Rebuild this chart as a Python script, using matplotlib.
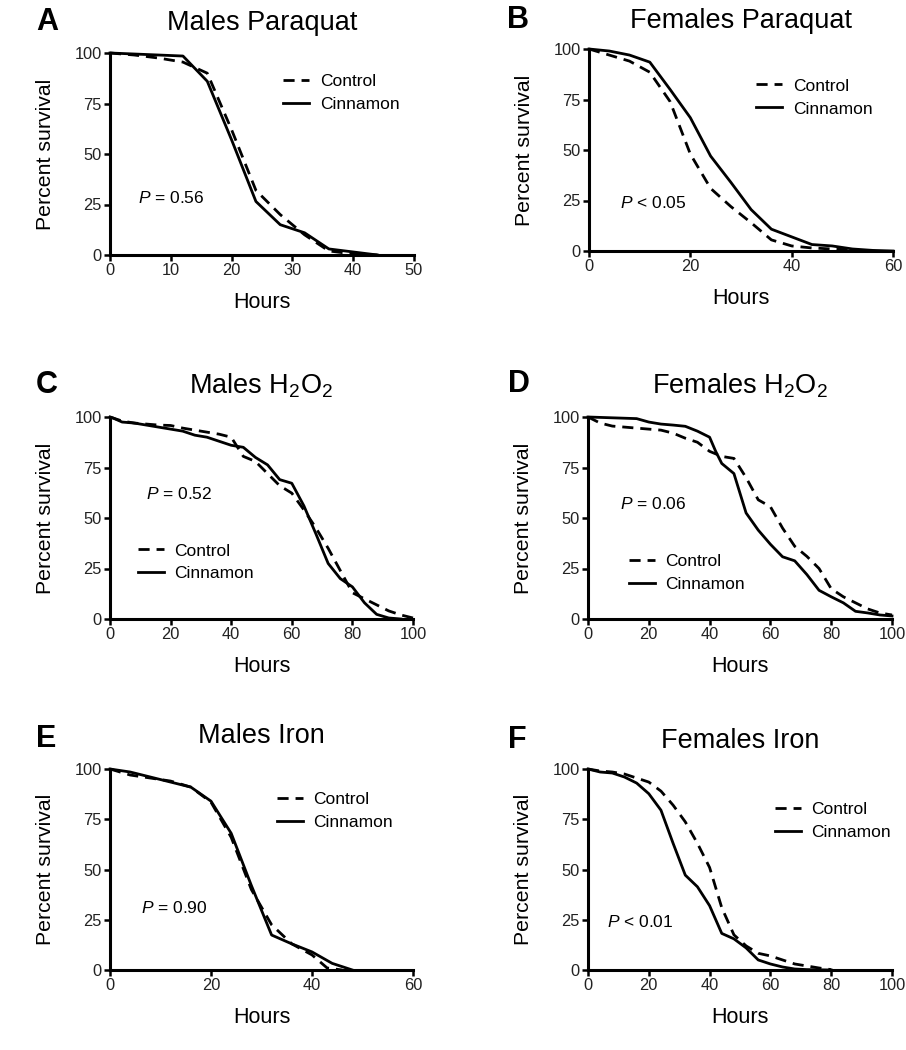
import matplotlib
matplotlib.use("Agg")
import matplotlib.pyplot as plt

plt.rcParams['font.family'] = ['Liberation Sans', 'DejaVu Sans']
plt.rcParams['mathtext.fontset'] = 'custom'
plt.rcParams['mathtext.rm'] = 'Liberation Sans'
plt.rcParams['mathtext.it'] = 'Liberation Sans:italic'

#%% data (hours, percent survival)
a_ctrl_t = [0, 4, 8, 12, 16, 20, 24, 28, 32, 36, 40, 44]
a_ctrl_y = [100, 99, 97.5, 95.5, 90, 62, 32, 20, 10, 2, 0.5, 0]
a_cinn_t = [0, 12, 16, 20, 24, 28, 32, 36, 44]
a_cinn_y = [100, 98.5, 86, 57, 26.5, 15, 11, 3, 0]

b_ctrl_t = [0, 4, 8, 12, 16, 20, 24, 28, 32, 36, 40, 44, 48, 52, 56]
b_ctrl_y = [100, 97, 94, 88.5, 74, 48, 31, 22, 14, 5.5, 2.5, 1.5, 1, 0.5, 0]
b_cinn_t = [0, 4, 8, 12, 16, 20, 24, 28, 32, 36, 40, 44, 48, 52, 56, 60]
b_cinn_y = [100, 99, 97, 93.5, 80, 66, 47, 34, 20.5, 10.8, 7, 3.2, 2.5, 1, 0.3, 0]

c_ctrl_t = [0, 4, 8, 12, 16, 20, 24, 28, 32, 36, 40, 44, 48, 52, 56, 60, 64, 68, 72, 76, 80, 84, 88, 92, 96, 100]
c_ctrl_y = [100, 98, 97, 96.5, 96, 95.8, 94.5, 93.5, 92.5, 91.5, 90, 80.5, 78, 72, 66, 62.3, 54, 45, 35, 24, 13, 10, 7, 4, 2, 0.5]
c_cinn_t = [0, 1, 4, 8, 12, 16, 20, 24, 28, 32, 36, 40, 44, 48, 52, 56, 60, 64, 68, 72, 76, 80, 84, 88, 92, 96]
c_cinn_y = [100, 99.5, 97.5, 97, 96, 95, 94, 93, 91, 90, 88, 86, 85, 80, 76.3, 69, 67.2, 56, 42, 27.5, 20, 15.9, 8, 2.3, 0.5, 0]

d_ctrl_t = [0, 4, 8, 16, 24, 28, 32, 36, 40, 44, 48, 52, 56, 60, 64, 68, 72, 76, 80, 84, 88, 92, 96, 100]
d_ctrl_y = [100, 97, 95.5, 94.5, 93.5, 92, 89.5, 87.5, 83, 80.5, 79.5, 70, 59, 55.6, 45, 36, 31, 25, 15, 11, 8, 5, 3, 2]
d_cinn_t = [0, 16, 20, 24, 28, 32, 36, 40, 42, 44, 48, 52, 56, 60, 64, 68, 72, 76, 80, 84, 88, 92, 96, 100]
d_cinn_y = [100, 99.2, 97.5, 96.5, 96, 95.4, 93, 90, 83, 77, 72, 52.5, 44, 37, 30.8, 28.8, 22, 14.2, 11, 8, 3.8, 3, 2, 1.5]

e_ctrl_t = [0, 4, 8, 12, 16, 20, 24, 28, 32, 36, 40, 43, 46]
e_ctrl_y = [100, 97, 95.5, 94, 91, 83.5, 66, 40, 22.5, 13, 7.5, 1, 0]
e_cinn_t = [0, 4, 8, 12, 16, 20, 24, 28, 32, 36, 40, 44, 48]
e_cinn_y = [100, 98.5, 96, 93.5, 91, 84, 68, 42, 17.4, 13, 9, 3.3, 0]

f_ctrl_t = [0, 4, 8, 12, 16, 20, 24, 28, 32, 36, 40, 44, 48, 52, 56, 60, 64, 68, 72, 76, 80]
f_ctrl_y = [100, 99, 98.5, 97.5, 95.5, 93.5, 89, 82, 73.7, 63, 51, 31, 17.5, 12, 8.3, 7, 5, 3, 2, 1, 0.2]
f_cinn_t = [0, 4, 8, 12, 16, 20, 24, 28, 32, 36, 40, 44, 48, 52, 56, 60, 64, 68, 72, 80]
f_cinn_y = [100, 98.5, 98, 96, 93, 87.7, 79.5, 63, 47.2, 41.4, 32, 18.2, 15.5, 11, 5, 3, 1.5, 0.5, 0.2, 0]

letters = ['A', 'B', 'C', 'D', 'E', 'F']
titles = ['Males Paraquat', 'Females Paraquat', r'Males H$_2$O$_2$',
          r'Females H$_2$O$_2$', 'Males Iron', 'Females Iron']
p_texts = ['= 0.56', '< 0.05', '= 0.52', '= 0.06', '= 0.90', '< 0.01']
x_max = [50, 60, 100, 100, 60, 100]
x_step = [10, 20, 20, 20, 20, 20]

ctrl = [(a_ctrl_t, a_ctrl_y), (b_ctrl_t, b_ctrl_y), (c_ctrl_t, c_ctrl_y),
        (d_ctrl_t, d_ctrl_y), (e_ctrl_t, e_ctrl_y), (f_ctrl_t, f_ctrl_y)]
cinn = [(a_cinn_t, a_cinn_y), (b_cinn_t, b_cinn_y), (c_cinn_t, c_cinn_y),
        (d_cinn_t, d_cinn_y), (e_cinn_t, e_cinn_y), (f_cinn_t, f_cinn_y)]

#%% layout in pixels: (left, right, top, bottom) of each axes
W, H = 906, 1050
boxes = [(110, 414, 53, 255), (589, 893, 49, 251),
         (110, 413, 417, 619), (588, 892, 417, 619),
         (110, 413, 769, 970), (588, 892, 769, 970)]
letter_pos = [(36, 30), (507, 28), (36, 393), (508, 392), (36, 747), (508, 748)]
title_pad = [16.5, 15, 17, 17, 18.5, 15]
legend_pos = [(0.57, 0.80), (0.55, 0.76), (0.092, 0.28), (0.135, 0.23), (0.55, 0.79), (0.615, 0.74)]
p_pos = [(4.6, 28), (6.1, 24), (11.9, 62), (10.5, 57), (6.1, 31), (6.2, 24)]

fig = plt.figure(figsize=(W / 100, H / 100), dpi=100)

for i in range(6):
    l, r, t, b = boxes[i]
    ax = fig.add_axes([l / W, 1 - b / H, (r - l) / W, (b - t) / H])
    ax.plot(*ctrl[i], color='black', lw=2.0, dashes=(4, 2.5), label='Control', clip_on=False)
    ax.plot(*cinn[i], color='black', lw=2.0, label='Cinnamon', clip_on=False)
    ax.set_xlim(0, x_max[i])
    ax.set_ylim(0, 100)
    ax.set_xticks(range(0, x_max[i] + 1, x_step[i]))
    ax.set_yticks([0, 25, 50, 75, 100])
    for s in ['top', 'right']:
        ax.spines[s].set_visible(False)
    for s in ['left', 'bottom']:
        ax.spines[s].set_linewidth(2.2)
    ax.tick_params(direction='out', length=4, width=1.8, labelsize=11.8,
                   labelcolor='#222222', pad=2)
    ax.set_xlabel('Hours', fontsize=15.5)
    ax.set_ylabel('Percent survival', fontsize=15.3)
    ax.xaxis.set_label_coords(0.5, -0.185)
    ax.yaxis.set_label_coords(-0.18, 0.5)
    ax.set_title(titles[i], fontsize=19.5, pad=title_pad[i])
    ax.text(p_pos[i][0], p_pos[i][1], r'$\it{P}$ ' + p_texts[i], fontsize=12.5,
            va='center', ha='left')
    ax.legend(loc='center left', bbox_to_anchor=legend_pos[i], frameon=False,
              borderpad=0, borderaxespad=0, handlelength=1.5, handletextpad=0.6,
              labelspacing=0.45, fontsize=12.5)
    fig.text(letter_pos[i][0] / W, 1 - letter_pos[i][1] / H, letters[i],
             fontsize=22, fontweight='bold', va='baseline', ha='left')

fig.savefig('out.png', dpi=100)
